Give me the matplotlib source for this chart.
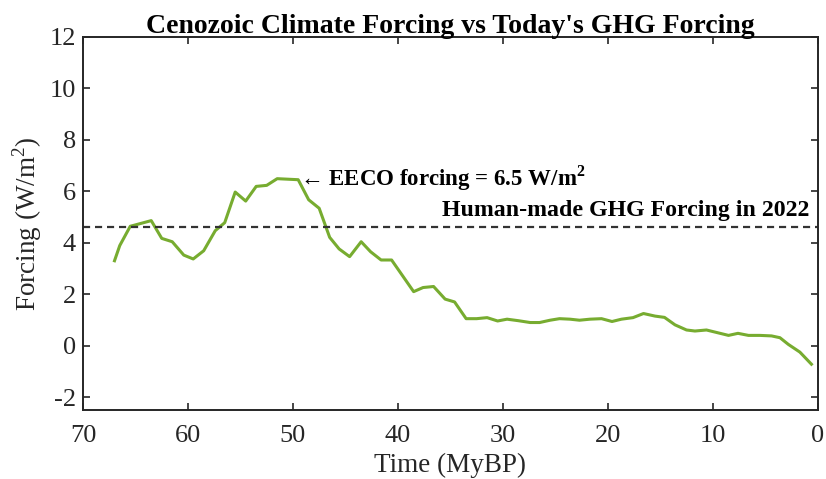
import matplotlib
matplotlib.use('Agg')
import matplotlib.pyplot as plt

plt.rcParams['font.family'] = ['Liberation Serif', 'DejaVu Serif']
plt.rcParams['mathtext.fontset'] = 'custom'
plt.rcParams['mathtext.rm'] = 'Liberation Serif'
plt.rcParams['mathtext.bf'] = 'Liberation Serif:bold'
plt.rcParams['axes.unicode_minus'] = False

# time (MyBP) and forcing (W/m2)
time = [67.0, 66.5, 65.5, 63.5, 62.5, 61.5, 60.4, 59.5, 58.5, 57.4, 56.5,
        55.5, 54.5, 53.5, 52.5, 51.5, 49.5, 48.5, 47.5, 46.5, 45.6, 44.6,
        43.5, 42.6, 41.6, 40.6, 38.5, 37.6, 36.6, 35.5, 34.6, 33.5, 32.5,
        31.5, 30.5, 29.6, 28.5, 27.4, 26.5, 25.5, 24.6, 23.6, 22.7, 21.7,
        20.6, 19.6, 18.7, 17.6, 16.6, 15.5, 14.6, 13.6, 12.5, 11.7, 10.6,
        9.6, 8.5, 7.6, 6.6, 5.5, 4.4, 3.6, 2.8, 1.7, 0.6]
forcing = [3.30, 3.89, 4.64, 4.86, 4.17, 4.04, 3.52, 3.37, 3.69, 4.47, 4.78,
           5.97, 5.62, 6.19, 6.23, 6.49, 6.45, 5.67, 5.34, 4.21, 3.76, 3.46,
           4.04, 3.65, 3.33, 3.33, 2.10, 2.26, 2.30, 1.81, 1.70, 1.05, 1.05,
           1.09, 0.96, 1.03, 0.97, 0.90, 0.90, 0.99, 1.05, 1.03, 0.99, 1.03,
           1.05, 0.94, 1.03, 1.09, 1.25, 1.15, 1.10, 0.81, 0.61, 0.57, 0.61,
           0.51, 0.40, 0.48, 0.40, 0.40, 0.38, 0.31, 0.05, -0.25, -0.72]
ghg_2022 = 4.6
eeco = 6.5

fig = plt.figure(figsize=(8.26, 4.79), dpi=100)
ax = fig.add_axes([0.1005, 0.144, 0.8895, 0.779])

ax.plot(time, forcing, color='#77AC30', lw=2.2)
ax.axhline(ghg_2022, color='#333333', ls=(0, (3.2, 2.2)), lw=1.6)

ax.text(49.3, eeco, '\u2190 EECO forcing = 6.5 W/m$^\\mathbf{2}$',
        fontsize=16.5, fontweight='bold', va='center', ha='left')
ax.text(0.8, ghg_2022 + 0.25, 'Human-made GHG Forcing in 2022',
        fontsize=17.2, fontweight='bold', va='bottom', ha='right')

ax.set_xlim(70, 0)
ax.set_ylim(-2.5, 12)
ax.set_xticks(range(70, -1, -10))
ax.set_yticks(range(-2, 13, 2))
ax.tick_params(direction='in', top=True, right=True, length=5, width=1.2,
               labelsize=19, colors='#262626', pad=5)
ax.tick_params(axis='x', pad=11)
for s in ax.spines.values():
    s.set_linewidth(1.4)
    s.set_color('#262626')

ax.set_xlabel('Time (MyBP)', fontsize=19.5, color='#262626', labelpad=4)
ax.set_ylabel('Forcing (W/m$^2$)', fontsize=19.5, color='#262626', labelpad=4)
ax.set_title("Cenozoic Climate Forcing vs Today's GHG Forcing",
             fontsize=20, fontweight='bold', pad=3)

fig.savefig('out.png', dpi=100)
